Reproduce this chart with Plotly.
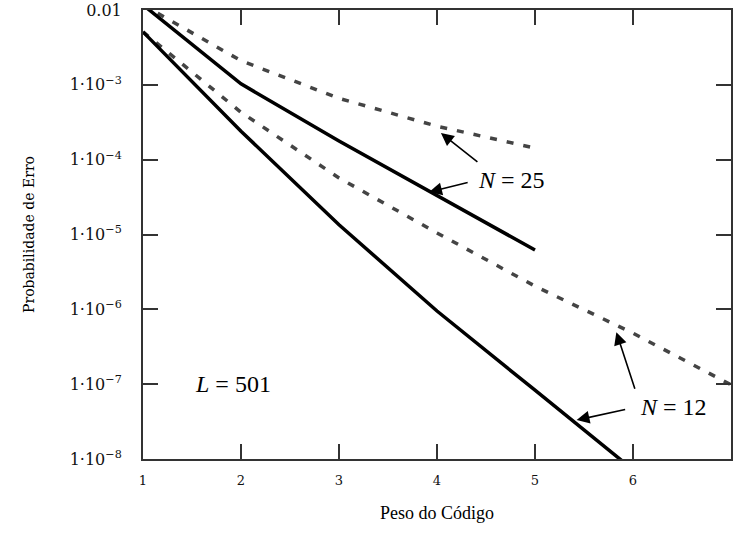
import plotly.graph_objects as go

# Peso do Código (code weight)
weights_n25 = [1, 2, 3, 4, 5]
weights_n12_solid = [1, 2, 3, 4, 5, 6]
weights_n12_dash = [1, 2, 3, 4, 5, 6, 7]

# Probabilidade de Erro
p_n25_solid = [1.17e-2, 1.03e-3, 1.78e-4, 3.3e-5, 6.2e-6]
p_n25_dash = [1.17e-2, 2.1e-3, 6.6e-4, 2.8e-4, 1.43e-4]
p_n12_solid = [5.1e-3, 2.4e-4, 1.35e-5, 9.5e-7, 8.3e-8, 7.2e-9]
p_n12_dash = [5.1e-3, 4.3e-4, 5.7e-5, 1.05e-5, 2.04e-6, 4.8e-7, 9.8e-8]

x_ticks = [1, 2, 3, 4, 5, 6]
y_ticks = [1e-2, 1e-3, 1e-4, 1e-5, 1e-6, 1e-7, 1e-8]
y_exponents = ["", "−3", "−4", "−5", "−6", "−7", "−8"]
y_ticktext = ["0.01"] + ["1·10<sup>" + e + "</sup>" for e in y_exponents[1:]]

SOLID = dict(color="black", width=3.5)
DASH = dict(color="#444444", width=3.5, dash="7px,10px")

fig = go.Figure()
fig.add_trace(go.Scatter(x=weights_n25, y=p_n25_dash, mode="lines", line=DASH, showlegend=False))
fig.add_trace(go.Scatter(x=weights_n12_dash, y=p_n12_dash, mode="lines", line=DASH, showlegend=False))
fig.add_trace(go.Scatter(x=weights_n25, y=p_n25_solid, mode="lines", line=SOLID, showlegend=False))
fig.add_trace(go.Scatter(x=weights_n12_solid, y=p_n12_solid, mode="lines", line=SOLID, showlegend=False))

serif = "Times New Roman"
tickserif = "DejaVu Serif"
tickfont = dict(family=tickserif, size=16, color="#111111")

fig.update_xaxes(range=[1, 7], tickvals=x_ticks, ticks="inside", ticklen=15, tickwidth=2,
                 tickcolor="#333333", showline=True, linecolor="#333333", linewidth=2,
                 mirror="allticks", showgrid=False, zeroline=False,
                 tickfont=dict(family=tickserif, size=13, color="#111111"),
                 ticklabelstandoff=8, ticklabeloverflow="allow",
                 title=dict(text="Peso do Código", font=dict(family=serif, size=18, color="black"),
                            standoff=20))
fig.update_yaxes(type="log", range=[-8, -2], tickvals=y_ticks, ticktext=y_ticktext,
                 ticks="inside", ticklen=15, tickwidth=2, tickcolor="#333333",
                 showline=True, linecolor="#333333", linewidth=2, mirror="allticks",
                 showgrid=False, zeroline=False, tickfont=tickfont, ticklabelstandoff=16,
                 ticklabeloverflow="allow",
                 title=dict(text="Probabilidade de Erro",
                            font=dict(family=tickserif, size=14, color="black"), standoff=32))

label_font = dict(family=serif, size=24, color="black")
annotations = [
    dict(x=1.92, y=-7.0, text="<i>L</i> = 501", showarrow=False, font=label_font),
    dict(x=4.76, y=-4.27, text="<i>N</i> = 25", showarrow=False, font=label_font),
    dict(x=6.41, y=-7.31, text="<i>N</i> = 12", showarrow=False, font=label_font),
]
arrow = dict(text="", showarrow=True, arrowhead=2, arrowsize=1.6, arrowwidth=1.6,
             arrowcolor="black", standoff=0)
for x, y, ax, ay in [(4.04, -3.644, 38, 30), (3.92, -4.433, 40, -10),
                     (5.83, -6.305, 19, 58), (5.425, -7.48, 50, -11)]:
    annotations.append(dict(x=x, y=y, ax=ax, ay=ay, **arrow))

fig.update_layout(width=733, height=533, margin=dict(l=143, r=0, t=10, b=74),
                  plot_bgcolor="white", paper_bgcolor="white", annotations=annotations)

fig.write_html("out.html")
